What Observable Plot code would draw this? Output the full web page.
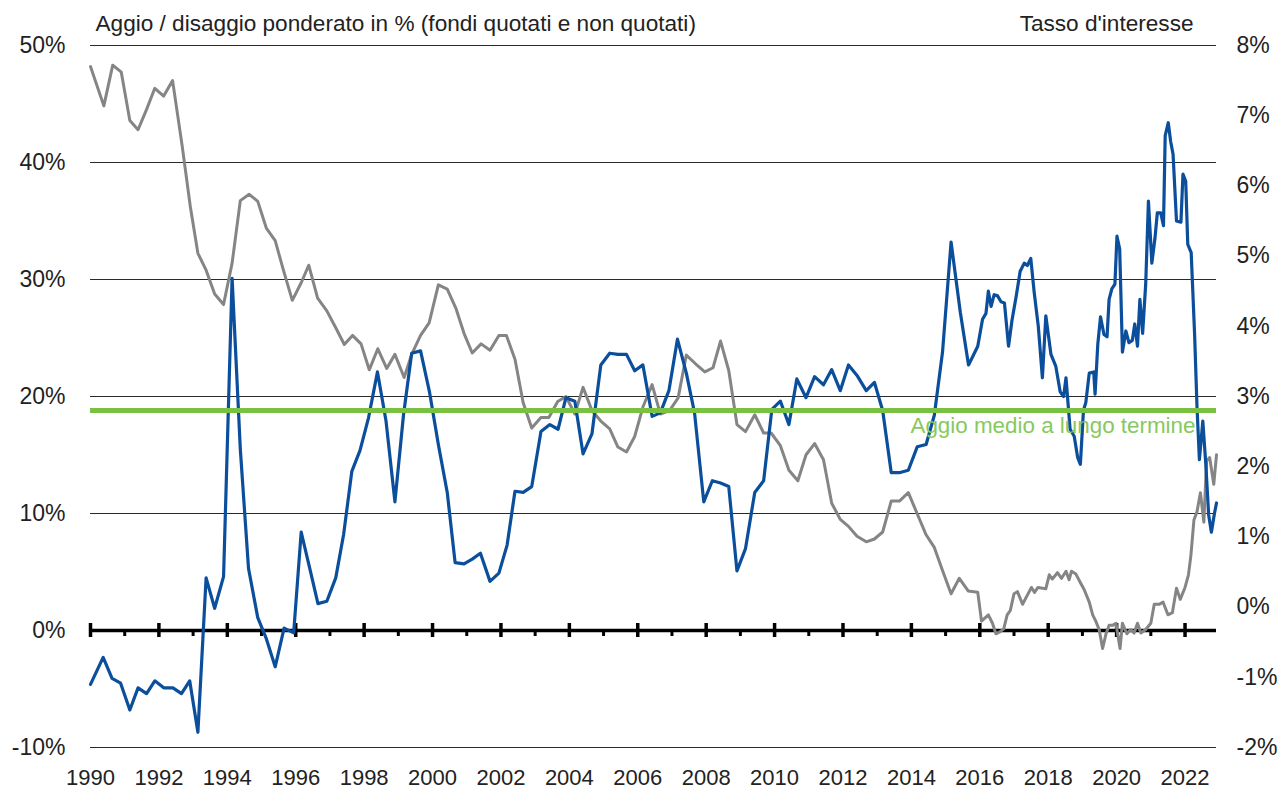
<!DOCTYPE html>
<html>
<head>
<meta charset="utf-8">
<script src="https://cdn.jsdelivr.net/npm/d3@7"></script>
<script src="https://cdn.jsdelivr.net/npm/@observablehq/plot@0.6"></script>
<style>
  html, body { margin: 0; padding: 0; background: #fff; }
  #chart { width: 1278px; height: 790px; }
</style>
</head>
<body>
<div id="chart"></div>
<script>
// ---- Text ----
const titleLeft = "Aggio / disaggio ponderato in % (fondi quotati e non quotati)";
const titleRight = "Tasso d'interesse";
const avgLabel = "Aggio medio a lungo termine";

// ---- Axis ticks ----
const leftTicks = [-10, 0, 10, 20, 30, 40, 50];     // aggio, %
const rightTicks = [-2, -1, 0, 1, 2, 3, 4, 5, 6, 7, 8]; // interest rate, %
const gridLevels = [-10, 10, 20, 30, 40, 50];
const yearLabels = [1990, 1992, 1994, 1996, 1998, 2000, 2002, 2004, 2006, 2008, 2010, 2012, 2014, 2016, 2018, 2020, 2022];
const oddYears = [1991, 1993, 1995, 1997, 1999, 2001, 2003, 2005, 2007, 2009, 2011, 2013, 2015, 2017, 2019, 2021];

// ---- Long-term average premium (%) ----
const longTermAvg = 18.8;

// ---- Weighted premium / discount (%), [year, value] ----
const aggio = [
  [1990.00,-4.6],[1990.37,-2.3],[1990.63,-4.1],[1990.88,-4.5],[1991.15,-6.8],[1991.39,-4.9],[1991.64,-5.4],[1991.88,-4.3],
  [1992.14,-4.9],[1992.41,-4.9],[1992.66,-5.4],[1992.90,-4.3],[1993.14,-8.7],[1993.38,4.5],[1993.63,1.9],[1993.89,4.6],
  [1994.14,30.1],[1994.38,15.5],[1994.62,5.3],[1994.89,1.1],[1995.14,-0.7],[1995.40,-3.1],[1995.66,0.2],[1995.94,-0.2],
  [1996.16,8.4],[1996.41,5.3],[1996.65,2.3],[1996.91,2.5],[1997.17,4.5],[1997.40,8.2],[1997.64,13.6],[1997.88,15.4],
  [1998.13,18.2],[1998.39,22.1],[1998.64,17.9],[1998.90,11.0],[1999.15,18.4],[1999.39,23.7],[1999.65,23.9],[1999.91,20.4],
  [2000.17,15.9],[2000.43,11.8],[2000.66,5.8],[2000.92,5.7],[2001.16,6.1],[2001.40,6.6],[2001.68,4.2],[2001.94,4.9],
  [2002.18,7.3],[2002.41,11.9],[2002.65,11.8],[2002.90,12.3],[2003.17,17.0],[2003.43,17.6],[2003.67,17.2],[2003.90,19.9],
  [2004.16,19.6],[2004.40,15.1],[2004.66,16.8],[2004.92,22.7],[2005.18,23.7],[2005.42,23.6],[2005.67,23.6],[2005.91,22.2],
  [2006.15,22.7],[2006.42,18.3],[2006.66,18.6],[2006.91,20.5],[2007.16,24.9],[2007.42,22.0],[2007.66,18.6],[2007.93,11.0],
  [2008.18,12.8],[2008.42,12.6],[2008.66,12.3],[2008.90,5.1],[2009.15,7.0],[2009.42,11.8],[2009.68,12.8],[2009.92,18.9],
  [2010.17,19.6],[2010.42,17.6],[2010.65,21.5],[2010.92,19.9],[2011.17,21.7],[2011.43,21.0],[2011.67,22.3],[2011.92,20.5],
  [2012.16,22.7],[2012.41,21.8],[2012.68,20.5],[2012.92,21.2],[2013.16,18.8],[2013.41,13.5],[2013.67,13.5],[2013.91,13.7],
  [2014.17,15.7],[2014.43,15.9],[2014.67,18.4],[2014.91,23.8],[2015.16,33.2],[2015.43,27.2],[2015.67,22.7],[2015.79,23.4],
  [2015.94,24.3],[2016.08,26.6],[2016.18,27.1],[2016.25,29.0],[2016.33,27.7],[2016.42,28.7],[2016.52,28.6],[2016.62,28.1],
  [2016.72,28.0],[2016.84,24.3],[2016.94,26.5],[2017.06,28.5],[2017.18,30.7],[2017.30,31.4],[2017.39,31.2],[2017.49,31.8],
  [2017.59,28.9],[2017.71,26.0],[2017.83,21.6],[2017.93,26.9],[2018.08,23.6],[2018.22,22.6],[2018.35,20.4],[2018.45,20.0],
  [2018.52,21.6],[2018.64,17.2],[2018.76,16.6],[2018.86,14.8],[2018.94,14.2],[2019.03,18.8],[2019.10,19.5],[2019.20,22.0],
  [2019.33,22.1],[2019.37,20.2],[2019.45,24.5],[2019.53,26.8],[2019.63,25.3],[2019.72,25.1],[2019.78,28.3],[2019.86,29.2],
  [2019.95,29.6],[2020.01,33.7],[2020.09,32.6],[2020.17,23.8],[2020.27,25.6],[2020.36,24.6],[2020.46,24.8],[2020.53,26.2],
  [2020.61,24.3],[2020.68,28.3],[2020.76,25.4],[2020.85,29.6],[2020.93,36.7],[2021.03,31.4],[2021.12,33.5],[2021.19,35.7],
  [2021.29,35.7],[2021.37,34.6],[2021.42,42.3],[2021.51,43.4],[2021.58,41.8],[2021.65,40.7],[2021.75,35.0],[2021.88,34.9],
  [2021.94,39.0],[2022.02,38.4],[2022.08,33.0],[2022.18,32.3],[2022.28,25.3],[2022.35,19.1],[2022.42,14.6],[2022.52,17.9],
  [2022.61,14.1],[2022.69,9.9],[2022.77,8.4],[2022.86,10.0],[2022.92,10.9]
];

// ---- Interest rate (%), [year, value] (right axis) ----
const tasso = [
  [1990.00,7.70],[1990.39,7.14],[1990.65,7.72],[1990.90,7.62],[1991.15,6.93],[1991.39,6.80],[1991.64,7.09],[1991.88,7.39],
  [1992.14,7.28],[1992.40,7.50],[1992.68,6.57],[1992.92,5.70],[1993.14,5.04],[1993.38,4.80],[1993.63,4.46],[1993.89,4.31],
  [1994.14,4.90],[1994.38,5.79],[1994.64,5.88],[1994.89,5.78],[1995.14,5.40],[1995.40,5.22],[1995.64,4.80],[1995.90,4.37],
  [1996.16,4.62],[1996.38,4.87],[1996.64,4.40],[1996.91,4.22],[1997.17,3.98],[1997.42,3.74],[1997.66,3.87],[1997.91,3.75],
  [1998.15,3.38],[1998.40,3.68],[1998.66,3.40],[1998.90,3.60],[1999.17,3.27],[1999.39,3.60],[1999.65,3.87],[1999.90,4.05],
  [2000.17,4.59],[2000.43,4.53],[2000.68,4.26],[2000.92,3.90],[2001.16,3.62],[2001.42,3.75],[2001.68,3.66],[2001.94,3.87],
  [2002.16,3.87],[2002.41,3.53],[2002.65,2.91],[2002.90,2.55],[2003.17,2.70],[2003.40,2.70],[2003.66,2.93],[2003.90,3.00],
  [2004.16,2.75],[2004.40,3.13],[2004.66,2.80],[2004.92,2.65],[2005.18,2.54],[2005.42,2.28],[2005.67,2.21],[2005.91,2.43],
  [2006.15,2.85],[2006.42,3.17],[2006.66,2.75],[2006.93,2.80],[2007.18,2.98],[2007.42,3.59],[2007.68,3.47],[2007.96,3.35],
  [2008.20,3.41],[2008.42,3.79],[2008.66,3.37],[2008.90,2.60],[2009.15,2.50],[2009.42,2.74],[2009.68,2.48],[2009.90,2.48],
  [2010.17,2.30],[2010.42,1.95],[2010.68,1.80],[2010.92,2.17],[2011.17,2.33],[2011.43,2.10],[2011.67,1.48],[2011.92,1.25],
  [2012.16,1.15],[2012.41,1.01],[2012.68,0.93],[2012.92,0.97],[2013.16,1.07],[2013.41,1.51],[2013.65,1.51],[2013.91,1.63],
  [2014.17,1.33],[2014.43,1.03],[2014.67,0.85],[2014.91,0.52],[2015.16,0.19],[2015.40,0.41],[2015.66,0.23],[2015.94,0.21],
  [2016.05,-0.20],[2016.25,-0.11],[2016.37,-0.23],[2016.47,-0.38],[2016.60,-0.35],[2016.70,-0.31],[2016.80,-0.11],[2016.89,-0.05],
  [2017.00,0.19],[2017.10,0.22],[2017.25,0.04],[2017.39,0.17],[2017.51,0.28],[2017.60,0.21],[2017.70,0.28],[2017.93,0.26],
  [2018.03,0.46],[2018.12,0.40],[2018.27,0.49],[2018.39,0.41],[2018.52,0.51],[2018.61,0.39],[2018.68,0.51],[2018.81,0.47],
  [2018.95,0.34],[2019.05,0.25],[2019.20,0.07],[2019.30,-0.11],[2019.39,-0.20],[2019.49,-0.32],[2019.59,-0.59],[2019.69,-0.38],
  [2019.78,-0.26],[2019.88,-0.26],[2019.98,-0.23],[2020.10,-0.59],[2020.17,-0.23],[2020.30,-0.38],[2020.41,-0.32],[2020.51,-0.37],
  [2020.61,-0.23],[2020.71,-0.37],[2020.85,-0.32],[2021.00,-0.23],[2021.10,0.04],[2021.24,0.04],[2021.36,0.07],[2021.50,-0.11],
  [2021.63,-0.08],[2021.75,0.27],[2021.86,0.11],[2022.00,0.28],[2022.10,0.46],[2022.17,0.73],[2022.26,1.24],[2022.35,1.36],
  [2022.45,1.63],[2022.55,1.21],[2022.63,2.08],[2022.72,2.13],[2022.84,1.75],[2022.92,2.17]
];

// Right axis (-2%..8%) aligned with left axis (-10%..50%)
const toLeft = r => 6 * r + 2;
const fromLeft = v => Math.round((v - 2) / 6);

const chart = Plot.plot({
  width: 1278,
  height: 790,
  marginLeft: 90,
  marginRight: 62,
  marginTop: 45,
  marginBottom: 43,
  style: { fontFamily: "'Liberation Sans', Arial, sans-serif", background: "#fff", color: "#222" },
  x: { domain: [1990, 2022.92], axis: null },
  y: { domain: [-10, 50], axis: null },
  marks: [
    Plot.ruleY(gridLevels, { stroke: "#2a2a2a", strokeWidth: 1 }),
    Plot.ruleY([0], { stroke: "#000", strokeWidth: 3.5 }),
    Plot.ruleX(yearLabels, { y1: 0, y2: 0, insetTop: -7, insetBottom: -7, stroke: "#000", strokeWidth: 3.5 }),
    Plot.ruleX(oddYears, { y1: 0, y2: 0, insetTop: 0, insetBottom: -6, stroke: "#000", strokeWidth: 3 }),
    Plot.line(tasso, { x: d => d[0], y: d => toLeft(d[1]), stroke: "#858585", strokeWidth: 3, strokeLinejoin: "round" }),
    Plot.line(aggio, { x: d => d[0], y: d => d[1], stroke: "#0b4f9c", strokeWidth: 3.2, strokeLinejoin: "round" }),
    Plot.ruleY([longTermAvg], { stroke: "#79c143", strokeWidth: 5 }),
    Plot.text([avgLabel], { frameAnchor: "right", y: () => longTermAvg, dx: -21, dy: 15, textAnchor: "end", lineAnchor: "middle", fill: "#86c95c", fontSize: 22.4 }),
    Plot.axisY(leftTicks, { anchor: "left", tickSize: 0, tickPadding: 25, tickFormat: d => d + "%", fontSize: 23 }),
    Plot.axisY(rightTicks.map(toLeft), { anchor: "right", tickSize: 0, tickPadding: 20, tickFormat: d => fromLeft(d) + "%", fontSize: 23, textAnchor: "start" }),
    Plot.axisX(yearLabels, { anchor: "bottom", tickSize: 0, tickPadding: 22, tickFormat: d => String(d), fontSize: 22 }),
    Plot.text([titleLeft], { frameAnchor: "top-left", dx: 5, dy: -22, textAnchor: "start", lineAnchor: "middle", fontSize: 22.6, fill: "#222" }),
    Plot.text([titleRight], { frameAnchor: "top-right", dx: -23, dy: -22, textAnchor: "end", lineAnchor: "middle", fontSize: 22.6, fill: "#222" })
  ]
});

document.getElementById("chart").appendChild(chart);
</script>
</body>
</html>
